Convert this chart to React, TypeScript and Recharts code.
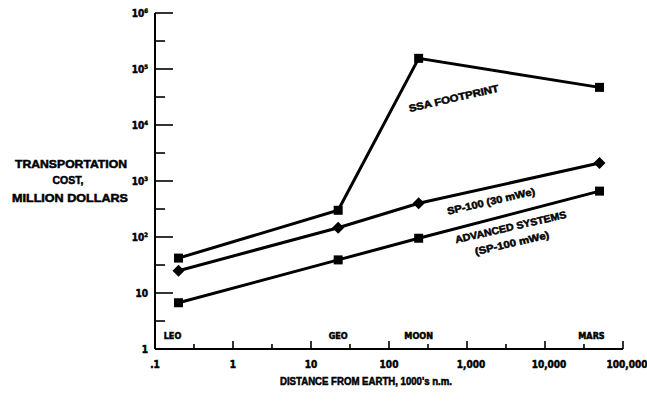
import { LineChart, Line, XAxis, YAxis, ReferenceDot } from 'recharts';

// locations along the x axis (1000's of nautical miles)
const places = ['LEO', 'GEO', 'MOON', 'MARS'];
const distance = [0.2, 22.3, 240, 50000];

// transportation cost, million dollars
const ssaFootprint = [42, 300, 155000, 47000];
const sp100 = [25, 146, 400, 2100];
const advanced = [6.7, 39, 95, 660];

const xMajorTicks = [0.1, 1, 10, 100, 1000, 10000, 100000];
const xMinorTicks = [0.316, 3.16, 31.6, 316, 3160, 31600];
const xTickLabels = ['.1', '1', '10', '100', '1,000', '10,000', '100,000'];

const yMajorTicks = [1, 10, 100, 1000, 10000, 100000, 1000000];
const yMinorTicks = [3.16, 31.6, 316, 3160, 31600, 316000];
const yTickExponents = ['', '', '2', '3', '4', '5', '6'];

// series captions, anchored in data coordinates
const captions = [
  { text: 'SSA FOOTPRINT', x: 680, y: 29000, len: 92 },
  { text: 'SP-100 (30 mWe)', x: 2040, y: 420, len: 90 },
  { text: 'ADVANCED SYSTEMS', x: 3650, y: 145, len: 114 },
  { text: '(SP-100 mWe)', x: 3800, y: 75, len: 76 },
];

const chartData = places.map((place, i) => ({
  place,
  distance: distance[i],
  ssa: ssaFootprint[i],
  sp100: sp100[i],
  advanced: advanced[i],
}));

const FONT = "'Liberation Sans Narrow', 'DejaVu Sans Condensed', sans-serif";
const TITLE_FONT = "'Liberation Sans', 'DejaVu Sans', sans-serif";
// photocopied lettering is heavy, thicken the glyphs a little
const heavy = { stroke: '#000', strokeWidth: 0.5, fill: '#000' };
const placeDx = [-6, 0, 0, -8];

function XTick(props: any) {
  const { x, y, payload } = props;
  const i = xMajorTicks.indexOf(payload.value);
  const major = i >= 0;
  return (
    <g>
      <line x1={x} y1={y} x2={x} y2={y - (major ? 8 : 5)} stroke="#000" strokeWidth={1.6} />
      {major && (
        <text x={x + (i > 3 ? 4 : 0)} y={y + 19} textAnchor="middle" fontFamily={FONT} fontWeight="bold" fontSize={10} {...heavy}>
          {xTickLabels[i]}
        </text>
      )}
    </g>
  );
}

function YTick(props: any) {
  const { x, y, payload } = props;
  const i = yMajorTicks.indexOf(payload.value);
  const major = i >= 0;
  return (
    <g>
      <line x1={x} y1={y} x2={x + (major ? 18 : 10)} y2={y} stroke="#000" strokeWidth={1.6} />
      {major && (
        <text x={x - 7} y={y + 4} textAnchor="end" fontFamily={FONT} fontWeight="bold" fontSize={10} {...heavy}>
          {i === 0 ? '1' : '10'}
          {yTickExponents[i] && (
            <tspan fontSize={6} dy={-4}>
              {yTickExponents[i]}
            </tspan>
          )}
        </text>
      )}
    </g>
  );
}

function SquareDot(props: any) {
  const { cx, cy, index, dataKey } = props;
  return <rect key={`${dataKey}-${index}`} x={cx - 4.5} y={cy - 4.5} width={9} height={9} fill="#000" />;
}

function DiamondDot(props: any) {
  const { cx, cy, index, dataKey } = props;
  return (
    <path
      key={`${dataKey}-${index}`}
      d={`M${cx},${cy - 6} L${cx + 6},${cy} L${cx},${cy + 6} L${cx - 6},${cy} Z`}
      fill="#000"
    />
  );
}

function YTitle() {
  const common = { fontFamily: TITLE_FONT, fontWeight: 'bold' as const, fontSize: 11, textAnchor: 'middle' as const, lengthAdjust: 'spacingAndGlyphs' as const, ...heavy };
  return (
    <g>
      <text x={71} y={168} textLength={112} {...common}>TRANSPORTATION</text>
      <text x={68} y={184} textLength={31} {...common}>COST,</text>
      <text x={70} y={202} textLength={116} {...common}>MILLION DOLLARS</text>
    </g>
  );
}

function XTitle() {
  return (
    <text
      x={366}
      y={385}
      textAnchor="middle"
      fontFamily={TITLE_FONT}
      fontWeight="bold"
      fontSize={10}
      textLength={172}
      lengthAdjust="spacingAndGlyphs"
      {...heavy}
    >
      DISTANCE FROM EARTH, 1000's n.m.
    </text>
  );
}

export default function App() {
  const xTicks = [...xMajorTicks, ...xMinorTicks].sort((a, b) => a - b);
  const yTicks = [...yMajorTicks, ...yMinorTicks].sort((a, b) => a - b);

  return (
    <div style={{ position: 'absolute', left: 0, top: 0, width: 647, height: 405, background: '#fff' }}>
      <LineChart width={647} height={405} data={chartData} margin={{ top: 13, right: 24, bottom: 55, left: 154 }}>
        <XAxis
          dataKey="distance"
          type="number"
          scale="log"
          domain={[0.1, 100000]}
          allowDataOverflow
          ticks={xTicks}
          interval={0}
          tickSize={0}
          tickMargin={0}
          tick={<XTick />}
          height={1}
          axisLine={{ stroke: '#000', strokeWidth: 2 }}
          label={() => <XTitle />}
        />
        <YAxis
          type="number"
          scale="log"
          domain={[1, 1000000]}
          allowDataOverflow
          ticks={yTicks}
          interval={0}
          tickSize={0}
          tickMargin={0}
          tick={<YTick />}
          width={1}
          axisLine={{ stroke: '#000', strokeWidth: 2 }}
          label={() => <YTitle />}
        />
        <Line dataKey="ssa" stroke="#000" strokeWidth={3} dot={SquareDot} isAnimationActive={false} />
        <Line dataKey="sp100" stroke="#000" strokeWidth={3} dot={DiamondDot} isAnimationActive={false} />
        <Line dataKey="advanced" stroke="#000" strokeWidth={3} dot={SquareDot} isAnimationActive={false} />
        {places.map((place, i) => (
          <ReferenceDot
            key={place}
            x={distance[i]}
            y={1}
            r={1}
            shape={(p: any) => (
              <text x={p.cx + placeDx[i]} y={p.cy - 10} textAnchor="middle" fontFamily={FONT} fontWeight="bold" fontSize={9} {...heavy}>
                {place}
              </text>
            )}
          />
        ))}
        {captions.map((c) => (
          <ReferenceDot
            key={c.text}
            x={c.x}
            y={c.y}
            r={1}
            shape={(p: any) => (
              <text
                x={p.cx}
                y={p.cy}
                transform={`rotate(-13 ${p.cx} ${p.cy})`}
                textAnchor="middle"
                dominantBaseline="middle"
                fontFamily={TITLE_FONT}
                fontWeight="bold"
                fontSize={10}
                textLength={c.len}
                lengthAdjust="spacingAndGlyphs"
                {...heavy}
              >
                {c.text}
              </text>
            )}
          />
        ))}
      </LineChart>
    </div>
  );
}
